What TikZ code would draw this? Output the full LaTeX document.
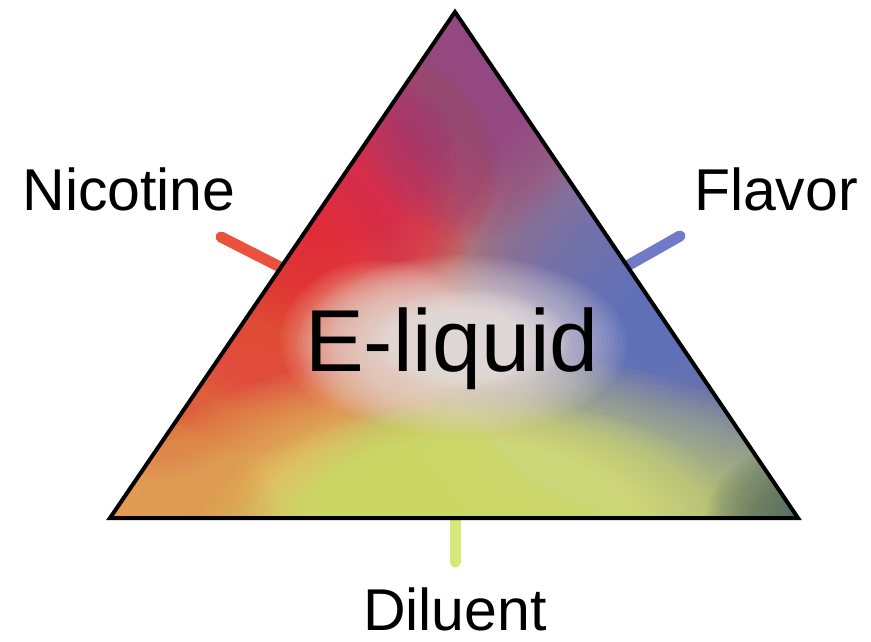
\documentclass[tikz,border=0pt]{standalone}
\usepackage{fontspec}
\setmainfont{Liberation Sans}
\usetikzlibrary{shadings}
\definecolor{cRed}{RGB}{242,52,52}
\definecolor{cCrim}{RGB}{232,45,75}
\definecolor{cRedOr}{RGB}{242,95,60}
\definecolor{cBlue}{RGB}{96,112,202}
\definecolor{cPurp}{RGB}{148,72,130}
\definecolor{cYel}{RGB}{222,234,120}
\definecolor{cOr}{RGB}{232,155,82}
\definecolor{cDark}{RGB}{88,108,98}
\definecolor{cGlow}{RGB}{242,234,232}
\definecolor{cPink}{RGB}{244,190,170}
\definecolor{baseRed}{RGB}{238,52,60}
\definecolor{baseBlue}{RGB}{100,112,200}
\definecolor{baseOr}{RGB}{232,150,80}
\definecolor{baseDark}{RGB}{140,160,120}
\definecolor{tickRed}{RGB}{234,82,62}
\definecolor{tickBlue}{RGB}{112,122,200}
\definecolor{tickYel}{RGB}{214,232,120}
\tikzset{
  tick/.style={line width=11pt, line cap=round},
  lbl/.style={inner sep=0pt, anchor=base, font=\fontsize{59}{61}\selectfont},
  bigl/.style={inner sep=0pt, anchor=base, font=\fontsize{88}{90}\selectfont},
  softlayer/.style={fill opacity=0.05}
}
\newcommand\softblob[5]{%
  \foreach \k in {1,...,40}{%
    \fill[#1, softlayer] (#2,#3) ellipse [x radius={#4pt*\k/40}, y radius={#5pt*\k/40}];%
  }%
}
\begin{document}
\begin{tikzpicture}[x=1pt,y=-1pt]
\useasboundingbox (0,0) rectangle (871,642);
\fill[white] (0,0) rectangle (871,642);
\coordinate (T) at (455,12);
\coordinate (L) at (110,518);
\coordinate (R) at (798,518);
\coordinate (nicOut) at (221,237);
\coordinate (nicIn) at (290,272);
\coordinate (flaOut) at (680,236);
\coordinate (flaIn) at (620,270);
\coordinate (dilOut) at (455,562);
\coordinate (dilIn) at (455,510);
\draw[tick, tickRed] (nicOut) -- (nicIn);
\draw[tick, tickBlue] (flaOut) -- (flaIn);
\draw[tick, tickYel] (dilOut) -- (dilIn);
\begin{scope}
\clip (T) -- (L) -- (R) -- cycle;
\shade[upper left=baseRed, upper right=baseBlue, lower left=baseOr, lower right=baseDark] (110,12) rectangle (798,518);
\softblob{cRed}{290}{285}{180}{180}
\softblob{cCrim}{370}{170}{130}{120}
\softblob{cRedOr}{240}{395}{140}{120}
\softblob{cBlue}{645}{330}{200}{190}
\softblob{cPurp}{475}{80}{130}{160}
\softblob{cYel}{470}{520}{360}{170}
\softblob{cYel}{480}{500}{240}{100}
\softblob{cOr}{120}{520}{160}{110}
\softblob{cDark}{805}{522}{100}{80}
\softblob{cPink}{380}{340}{100}{80}
\softblob{cGlow}{462}{345}{165}{90}
\softblob{cGlow}{470}{340}{100}{50}
\end{scope}
\draw[line width=4pt, line join=miter] (T) -- (L) -- (R) -- cycle;
\node[lbl] (nic) at (129,210) {Nicotine};
\node[lbl] (fla) at (776,210) {Flavor};
\node[lbl] (dil) at (455,630) {Diluent};
\node[bigl] (eliq) at (452,371) {E-liquid};
\end{tikzpicture}
\end{document}
